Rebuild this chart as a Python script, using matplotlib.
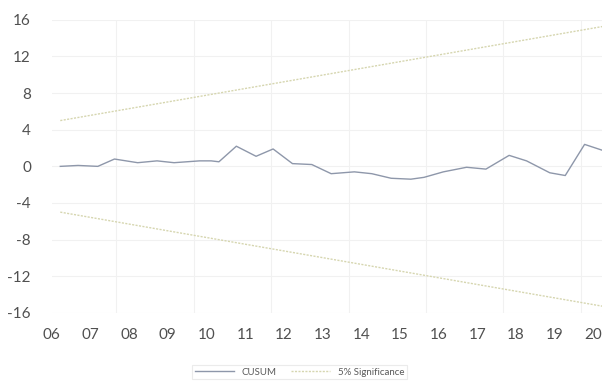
import matplotlib.pyplot as plt
import numpy as np

# CUSUM path (decimal year, value)
years = [2006.0, 2006.46, 2006.97, 2007.4, 2008.0, 2008.5, 2008.94, 2009.6,
         2009.9, 2010.1, 2010.55, 2011.06, 2011.5, 2012.0, 2012.5, 2013.0,
         2013.6, 2014.05, 2014.55, 2015.06, 2015.4, 2015.9, 2016.5, 2017.0,
         2017.6, 2018.05, 2018.65, 2019.05, 2019.55, 2020.05]
cusum = [0.0, 0.1, 0.0, 0.8, 0.4, 0.6, 0.4, 0.6,
         0.6, 0.5, 2.2, 1.1, 1.9, 0.3, 0.2, -0.8,
         -0.6, -0.8, -1.3, -1.4, -1.2, -0.6, -0.1, -0.3,
         1.2, 0.6, -0.7, -1.0, 2.4, 1.7]

# 5% significance bounds at the ends of the sample
bound_years = [2006.0, 2020.05]
upper = [5.0, 15.3]
lower = [-5.0, -15.3]

tick_years = list(range(2006, 2021))
tick_labels = [f"{y % 100:02d}" for y in tick_years]
y_ticks = [16, 12, 8, 4, 0, -4, -8, -12, -16]

plt.rcParams['font.family'] = ['Lato', 'DejaVu Sans']

fig = plt.figure(figsize=(6.02, 3.82), dpi=100)
ax = fig.add_axes([0.086, 0.181, 0.914, 0.767])

grid_c = '#f1f1f1'
for y in y_ticks:
    ax.axhline(y, color=grid_c, lw=0.8, zorder=0)
for x in np.arange(2007.45, 2020.1, 2.0):
    ax.axvline(x, color=grid_c, lw=0.8, zorder=0)

sig_c = '#d6d6b0'
ax.plot(bound_years, upper, color=sig_c, lw=1.0, ls=(0, (1.5, 1)), label='5% Significance')
ax.plot(bound_years, lower, color=sig_c, lw=1.0, ls=(0, (1.5, 1)))
ax.plot(years, cusum, color='#8e97aa', lw=1.0, label='CUSUM', zorder=3)

ax.set_xlim(2006.0, 2020.0)
ax.set_ylim(-16, 16)
ax.set_yticks(y_ticks)
ax.set_yticklabels([str(v) for v in y_ticks])
ax.set_xticks([y - 0.22 for y in tick_years])
ax.set_xticklabels(tick_labels)
ax.tick_params(length=0, labelsize=11, labelcolor='#505050')
ax.tick_params(axis='x', pad=11)
ax.tick_params(axis='y', pad=15)
for s in ax.spines.values():
    s.set_visible(False)

handles, labels = ax.get_legend_handles_labels()
leg = fig.legend(handles[::-1], labels[::-1], loc='center', bbox_to_anchor=(0.498, 0.026),
                 ncol=2, fontsize=7, frameon=True, fancybox=False, handlelength=4,
                 columnspacing=1.5, borderpad=0.3)
leg.get_frame().set_edgecolor('#e6e6e6')
leg.get_frame().set_linewidth(0.8)
for t in leg.get_texts():
    t.set_color('#595959')

fig.savefig('out.png', dpi=100)
